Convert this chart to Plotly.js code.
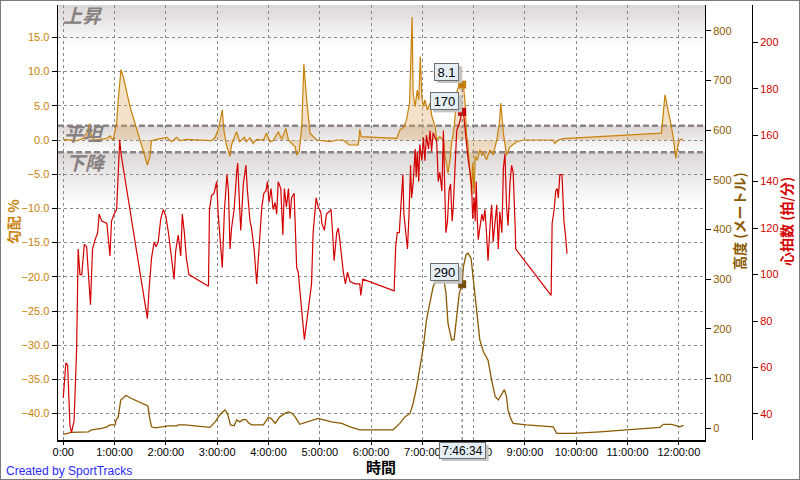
<!DOCTYPE html>
<html>
<head>
<meta charset="utf-8">
<script src="https://cdn.plot.ly/plotly-3.0.1.min.js"></script>
<style>
html,body{margin:0;padding:0;background:#fff;}
#wrap{position:relative;width:800px;height:480px;}
#chart{width:800px;height:480px;}
#frame{position:absolute;left:0;top:0;width:800px;height:480px;box-sizing:border-box;border:1px solid #7a7a7a;pointer-events:none;}
</style>
</head>
<body>
<div id="wrap"><div id="chart"></div><div id="frame"></div></div>
<script>
// ---- data (time in hours) ----
const hrTime = [0.00,0.05,0.085,0.13,0.16,0.21,0.26,0.29,0.325,0.36,0.41,0.455,0.53,0.57,0.62,0.67,0.70,0.75,0.85,0.88,0.91,0.94,0.99,1.04,1.07,1.10,1.125,
  1.64,1.67,1.72,1.77,1.81,1.85,1.90,1.95,2.00,2.05,2.11,2.16,2.19,2.24,2.29,2.32,2.36,2.40,2.45,
  2.83,2.85,2.89,2.94,2.99,3.02,3.07,3.10,3.14,3.19,3.22,3.25,3.28,3.33,3.38,3.40,3.44,3.46,3.51,3.56,3.59,3.64,3.67,3.72,3.77,3.81,3.87,3.91,3.95,3.98,
  4.01,4.05,4.09,4.13,4.16,4.19,4.24,4.28,4.31,4.35,4.39,4.42,4.45,4.50,4.55,4.58,4.70,4.84,4.87,4.93,4.97,
  5.02,5.04,5.09,5.13,5.18,5.22,5.25,5.28,5.33,5.36,5.39,5.43,5.46,5.50,5.54,5.59,5.69,5.78,5.80,5.84,
  6.45,6.48,6.51,6.55,6.60,6.62,6.64,6.67,6.71,6.74,6.77,6.79,6.82,6.86,6.88,6.90,6.93,6.95,6.99,7.02,7.05,7.08,7.12,
  7.15,7.18,7.21,7.28,7.31,7.34,7.38,7.41,7.44,7.46,7.49,7.52,7.55,7.58,7.60,7.64,7.67,7.72,7.776,7.80,7.83,7.85,7.89,7.93,7.96,7.98,
  8.01,8.03,8.05,8.07,8.09,8.12,8.16,8.19,8.22,8.25,8.28,8.32,8.35,8.38,8.42,8.45,8.48,8.51,8.55,8.58,8.61,8.64,8.67,8.71,8.74,8.77,8.81,8.82,
  9.51,9.53,9.57,9.60,9.63,9.65,9.68,9.72,9.73,9.76,9.79,9.81,9.82];
const hrBpm = [47,62,61,35,32,37,68,111,100,100,113,112,87,111,115,118,126,123,122,113,108,123,126,128,147,158,152,
  81,93,107,114,112,114,124,128,125,118,107,98,110,117,108,126,118,107,100,
  95,128,134,135,140,126,113,103,127,143,136,111,120,128,144,148,128,119,139,147,136,123,120,111,96,111,129,135,136,140,
  131,137,128,131,126,140,137,117,137,129,137,124,133,135,103,101,72,96,118,133,129,
  127,122,119,126,127,128,118,106,118,120,115,106,101,96,101,97,96,96,91,98,
  93,112,118,118,140,143,126,120,111,126,147,133,139,154,142,153,140,156,149,159,149,160,154,
  162,153,161,157,140,144,136,162,134,118,123,136,139,123,128,147,162,165,170,170,163,157,150,144,139,124,
  133,123,140,124,115,120,126,123,128,118,106,121,130,114,124,130,111,127,118,146,152,130,121,140,147,144,120,111,
  91,122,128,136,137,133,143,143,139,123,117,113,109];

const altTime = [0.00,0.16,0.49,0.55,0.75,0.85,0.91,1.01,1.03,1.07,1.12,1.16,1.22,1.33,1.65,1.68,1.72,1.79,1.92,2.05,
  2.21,2.24,2.37,2.57,2.86,2.96,3.05,3.15,3.20,3.26,3.33,3.38,3.44,3.51,3.57,3.61,3.67,3.80,3.90,4.00,
  4.06,4.13,4.22,4.32,4.39,4.46,4.52,4.61,4.84,4.97,5.04,5.23,5.43,5.59,5.78,6.43,6.56,6.66,6.76,6.82,
  6.89,6.95,7.02,7.08,7.15,7.21,7.27,7.34,7.42,7.46,7.50,7.57,7.62,7.67,7.72,7.776,7.80,7.85,7.89,7.95,
  7.99,8.06,8.12,8.19,8.28,8.35,8.42,8.48,8.55,8.60,8.64,8.67,8.72,8.77,9.03,9.55,9.62,9.94,10.46,11.63,
  11.70,11.86,11.96,12.02,12.09];
const altM = [-12,-8,-7,-3,0,3,7,7,17,22,57,60,66,60,45,23,3,1,3,5,
  5,7,7,5,2,13,27,37,30,7,5,17,13,18,17,11,7,7,7,22,
  19,10,23,30,33,30,23,8,15,20,18,13,10,3,-3,-3,10,23,30,50,
  84,124,164,218,258,285,298,297,298,272,211,178,179,225,272,290,325,349,353,342,
  305,245,178,154,137,97,64,57,70,78,64,37,20,10,7,3,-10,-10,-7,2,
  8,8,5,3,6];

const gradeTime = [0.00,0.26,0.39,0.46,0.52,0.55,0.62,0.85,0.91,0.97,
  1.04,1.07,1.125,1.17,1.30,1.50,1.64,1.69,1.72,1.82,
  1.95,2.02,2.11,2.21,2.27,2.34,2.41,2.89,2.96,3.02,
  3.10,3.13,3.18,3.25,3.28,3.35,3.38,3.44,3.53,3.57,
  3.64,3.70,3.77,3.90,3.96,4.03,4.09,4.19,4.26,4.34,
  4.39,4.45,4.52,4.55,4.60,4.65,4.69,4.74,4.81,4.94,
  5.07,5.20,5.33,5.46,5.57,5.75,5.78,5.81,6.50,6.56,
  6.64,6.69,6.75,6.77,6.80,6.82,6.86,6.90,6.93,6.96,
  6.99,7.02,7.05,7.10,7.15,7.18,7.25,7.28,7.34,7.41,
  7.44,7.47,7.50,7.54,7.57,7.62,7.66,7.68,7.71,7.73,
  7.776,7.79,7.83,7.86,7.89,7.93,7.96,7.98,8.01,8.03,
  8.07,8.12,8.16,8.19,8.25,8.32,8.38,8.45,8.50,8.53,
  8.58,8.64,8.71,8.84,8.97,9.55,9.58,9.65,9.75,11.66,
  11.73,11.83,11.89,11.94,11.99,12.02,12.07];
const gradePct = [0.1,-0.1,0.25,1.07,2.4,0.4,0,0.25,0.6,0,
  2.4,5.8,10.3,9.25,4.9,0,-3.65,-2.4,-0.1,0.1,
  0.25,0.4,-0.25,0.4,-0.1,0,0.1,-0.1,0.4,1.46,
  4.4,1.46,-0.73,-2.4,-0.73,0.73,1.2,-0.25,0.4,-0.25,
  0.34,-0.5,0.1,0,1.0,-0.25,-0.1,1.2,0.1,1.7,
  0,-0.5,-1.0,-2.2,-1.7,2.05,11.1,6.3,1.0,0,
  -0.1,-0.25,0,0,-0.73,-0.73,1.56,0.5,0.25,1.46,
  1.9,2.9,5.4,10.7,18.0,6.8,4.9,7.3,5.85,12.2,
  6.3,4.9,5.85,4.4,5.4,3.65,1.9,0,0.5,0,
  -2.4,-3.4,-4.9,-2.9,-0.5,1.9,5.85,7.3,7.8,8.0,
  8.1,8.5,5.85,1.0,-1.0,-4.9,-8.0,-3.4,-7.8,-2.4,
  -3.0,-1.46,-2.2,-1.95,-2.9,-1.46,-2.2,0,2.4,5.4,
  1.0,-2.2,-1.0,-0.25,0,0,-0.5,0,0.2,1.0,
  6.6,2.9,0.5,-2.7,-0.5,0,0.2];

// cursor readout
const cursorTime = [7.776];
const cursorLabel = "7:46:34";
const cursorGrade = [8.1];
const cursorHr = [170];
const cursorAlt = [290];

// tick labels
const hourTicks = [0,1,2,3,4,5,6,7,8,9,10,11,12];
const hourLabels = ["0:00","1:00:00","2:00:00","3:00:00","4:00:00","5:00:00","6:00:00","7:00:00","8:00:00","9:00:00","10:00:00","11:00:00","12:00:00"];
const gradeTicks = [-40,-35,-30,-25,-20,-15,-10,-5,0,5,10,15];
const gradeLabels = ["\u221240.0","\u221235.0","\u221230.0","\u221225.0","\u221220.0","\u221215.0","\u221210.0","\u22125.0","0.0","5.0","10.0","15.0"];
const altTicks = [0,100,200,300,400,500,600,700,800];
const hrTicks = [40,60,80,100,120,140,160,180,200];
const bandUpper = 2.1, bandLower = -1.8;

// ---- layout helpers ----
const ML = 58, MR = 10, MT = 5, MB = 40, PW = 800 - ML - MR, PH = 480 - MT - MB;
const px = x => (x - ML) / PW;
const py = y => (480 - MB - y) / PH;
const X_RANGE = [-0.103, 12.51];
const G_RANGE = [-43.86, 19.74];
const A_RANGE = [-23.5, 852];
const H_RANGE = [28.8, 216];

const C_GRADE = '#c8820a', C_ALT = '#8b5a00', C_HR = '#d40000';
const FONT = 'Liberation Sans, Arial, sans-serif';
const CJK = 'Noto Sans CJK JP, sans-serif';

const shapes = [];
// seamless vertical gradient: each rect runs to the band's end, later (lighter) ones overwrite
function gradient(yTop, yBot, n, g) {
  for (let i = 0; i < n; i++) {
    const f = i / n;
    const c = g.map(v => Math.round(v + (255 - v) * f));
    shapes.push({type:'rect', xref:'x domain', yref:'y', x0:0, x1:1,
      y0: yTop + (yBot - yTop) * i / n, y1: yBot,
      fillcolor:`rgb(${c[0]},${c[1]},${c[2]})`, line:{width:0}, layer:'below'});
  }
}
const GRAY = [221, 216, 216];
gradient(G_RANGE[1], 13.5, 30, GRAY);
gradient(bandUpper, bandLower, 24, GRAY);
gradient(bandLower, -9.5, 30, GRAY);
[bandUpper, bandLower].forEach(v => shapes.push({type:'line', xref:'x domain', yref:'y', x0:0, x1:1, y0:v, y1:v,
  line:{color:'#8c8282', width:2.5, dash:'6px,3px'}, layer:'below'}));
shapes.push({type:'line', xref:'x', yref:'y', x0:cursorTime[0], x1:cursorTime[0], y0:G_RANGE[0], y1:cursorGrade[0],
  line:{color:'#606060', width:1, dash:'3px,3px'}, layer:'above'});

// box shadows (pixel-sized, anchored at the cursor values)
function shadow(yref, yval, x0, x1, y0, y1) {
  shapes.push({type:'rect', xref:'x', xsizemode:'pixel', xanchor:cursorTime[0], x0:x0, x1:x1,
    yref:yref, ysizemode:'pixel', yanchor:yval, y0:y0, y1:y1,
    fillcolor:'#c4c4c4', line:{width:0}, layer:'above'});
}
shadow('y', cursorGrade[0], -25, 0, 1.5, 18.5);
shadow('y3', cursorHr[0], -29, 0, -0.5, 16.5);
shadow('y2', cursorAlt[0], -29, 0, 0.5, 17.5);
shapes.push({type:'rect', xref:'x', xsizemode:'pixel', xanchor:cursorTime[0], x0:-20.5, x1:26.5,
  yref:'paper', y0:py(461), y1:py(445), fillcolor:'#c4c4c4', line:{width:0}, layer:'above'});

const annotations = [];
function boxNote(text, yval, yref, opts) {
  annotations.push(Object.assign({text:text, x:cursorTime[0], y:yval, xref:'x', yref:yref, showarrow:false,
    font:{family:FONT, size:13, color:'#000'}, borderpad:1, borderwidth:1,
    bgcolor:'#e6eef5', bordercolor:'#6e6e6e'}, opts));
}
boxNote(String(cursorGrade[0]), cursorGrade[0], 'y', {xanchor:'right', yanchor:'middle', xshift:-3, yshift:13, width:21, height:14});
boxNote(String(cursorHr[0]), cursorHr[0], 'y3', {xanchor:'right', yanchor:'middle', xshift:-3, yshift:11, width:25, height:14});
boxNote(String(cursorAlt[0]), cursorAlt[0], 'y2', {xanchor:'right', yanchor:'middle', xshift:-3, yshift:12, width:25, height:14});
boxNote(cursorLabel, py(450), 'paper', {xanchor:'center', yanchor:'middle', width:43, height:13, font:{family:FONT, size:12, color:'#000'}});

function txt(text, x, y, opts) {
  annotations.push(Object.assign({text:text, x:px(x), y:py(y), xref:'paper', yref:'paper', showarrow:false}, opts));
}
const bandFont = {family:CJK, size:19, color:'#868080', weight:'bold', style:'italic'};
txt('上昇', 61, 14, {xanchor:'left', yanchor:'middle', font:bandFont});
txt('平坦', 62, 132, {xanchor:'left', yanchor:'middle', font:bandFont});
txt('下降', 64, 161, {xanchor:'left', yanchor:'middle', font:bandFont});
txt('勾配 %', 13, 222, {xanchor:'center', yanchor:'middle', textangle:-90, font:{family:CJK, size:14, color:C_GRADE, weight:'bold'}});
txt('高度 (メートル)', 739, 221, {xanchor:'center', yanchor:'middle', textangle:-90, font:{family:CJK, size:14, color:C_ALT, weight:'bold'}});
txt('心拍数 (拍/分)', 786, 222, {xanchor:'center', yanchor:'middle', textangle:-90, font:{family:CJK, size:14, color:C_HR, weight:'bold'}});
txt('時間', 381, 466, {xanchor:'center', yanchor:'middle', font:{family:CJK, size:15, color:'#000', weight:'bold'}});
txt('Created by SportTracks', 4, 471, {xanchor:'left', yanchor:'middle', font:{family:FONT, size:12, color:'#2a2aff'}});

const traces = [
  {x:gradeTime, y:gradePct, type:'scatter', mode:'lines', yaxis:'y', fill:'tozeroy',
   fillcolor:'rgba(222,170,100,0.35)', line:{color:C_GRADE, width:1.2}},
  {x:altTime, y:altM, type:'scatter', mode:'lines', yaxis:'y2', line:{color:C_ALT, width:1.3}},
  {x:hrTime, y:hrBpm, type:'scatter', mode:'lines', yaxis:'y3', line:{color:C_HR, width:1.2}},
  {x:cursorTime, y:cursorGrade, type:'scatter', mode:'markers', yaxis:'y', marker:{symbol:'square', size:8, color:'#c87f0a'}},
  {x:cursorTime, y:cursorHr, type:'scatter', mode:'markers', yaxis:'y3', marker:{symbol:'square', size:8, color:'#cc0000'}},
  {x:cursorTime, y:cursorAlt, type:'scatter', mode:'markers', yaxis:'y2', marker:{symbol:'square', size:8, color:'#7a4e00'}}
];

const layout = {
  width:800, height:480, margin:{l:ML, r:MR, t:MT, b:MB, pad:0},
  paper_bgcolor:'#fff', plot_bgcolor:'#fff', showlegend:false, hovermode:false,
  xaxis:{domain:[0, (705-ML)/PW], range:X_RANGE, tickmode:'array', tickvals:hourTicks, ticktext:hourLabels,
    showgrid:true, gridcolor:'#8a8a8a', griddash:'dot', gridwidth:1, zeroline:false,
    showline:true, linecolor:'#000', linewidth:1.5, ticks:'outside', ticklen:3, tickcolor:'#000',
    ticklabelstandoff:-2,
    tickfont:{family:FONT, size:11, color:'#000'}},
  yaxis:{range:G_RANGE, tickmode:'array', tickvals:gradeTicks, ticktext:gradeLabels,
    showgrid:true, gridcolor:'#8a8a8a', griddash:'dot', gridwidth:1, zeroline:false,
    showline:true, linecolor:'#000', linewidth:1.5, ticks:'outside', ticklen:5, tickcolor:'#000',
    tickfont:{family:FONT, size:11, color:C_GRADE}},
  yaxis2:{range:A_RANGE, overlaying:'y', side:'right', anchor:'x', tickmode:'array', tickvals:altTicks,
    showgrid:false, zeroline:false, showline:true, linecolor:'#000', linewidth:1, ticks:'outside', ticklen:5, tickcolor:'#000',
    tickfont:{family:FONT, size:11, color:C_ALT}},
  yaxis3:{range:H_RANGE, overlaying:'y', side:'right', anchor:'free', position:(752-ML)/PW, tickmode:'array', tickvals:hrTicks,
    showgrid:false, zeroline:false, showline:true, linecolor:'#000', linewidth:1, ticks:'outside', ticklen:5, tickcolor:'#000',
    tickfont:{family:FONT, size:11, color:C_HR}},
  shapes:shapes, annotations:annotations
};
Plotly.newPlot('chart', traces, layout, {staticPlot:true, displayModeBar:false});
</script>
</body>
</html>
